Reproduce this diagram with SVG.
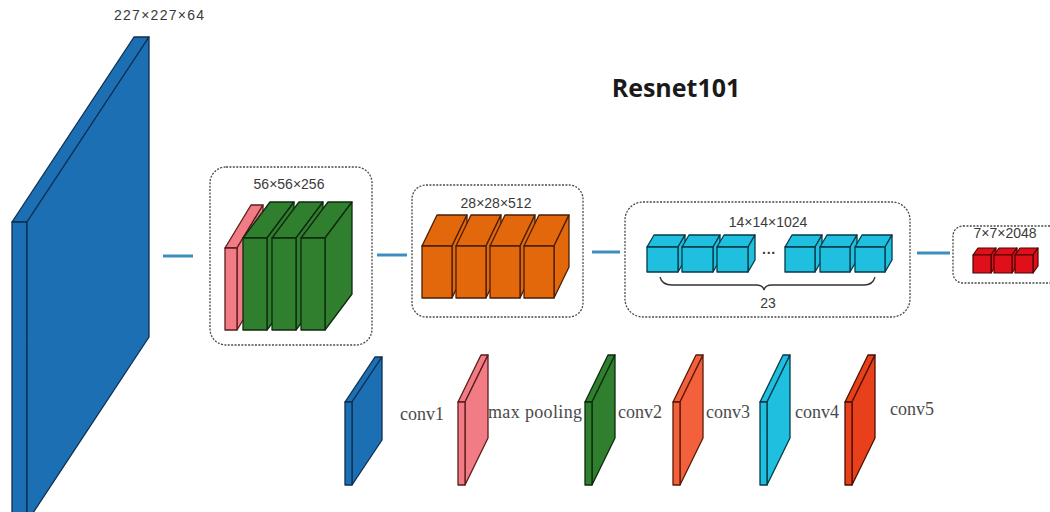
<svg xmlns="http://www.w3.org/2000/svg" width="1050" height="512" viewBox="0 0 1050 512">
  <defs>
    <style>
      .lbl { font-family: "Liberation Sans", Arial, sans-serif; font-size: 14px; fill: #3a3a3a; }
      .leg { font-family: "Liberation Serif", "Times New Roman", serif; font-size: 18px; fill: #4a4a4a; }
      .title { font-family: "Open Sans", "Liberation Sans", sans-serif; font-size: 25px; font-weight: bold; fill: #1a1a1a; }
      .box { fill: none; stroke: #4a4a4a; stroke-width: 1.3; stroke-dasharray: 2 1.4; }
      .link { stroke: #3d8ebf; stroke-width: 3; }
      .blue { fill: #1d6fb3; stroke: #0c2f52; stroke-width: 1.3; stroke-linejoin: round; }
      .pink { fill: #f27c86; stroke: #5a1c1c; stroke-width: 1.3; stroke-linejoin: round; }
      .green { fill: #2f7f2e; stroke: #0f2a0f; stroke-width: 1.3; stroke-linejoin: round; }
      .orange { fill: #e3680c; stroke: #4a1e05; stroke-width: 1.3; stroke-linejoin: round; }
      .cyan { fill: #1fbfe0; stroke: #073a48; stroke-width: 1.3; stroke-linejoin: round; }
      .red { fill: #e0101a; stroke: #4a0505; stroke-width: 1.2; stroke-linejoin: round; }
      .tomato { fill: #f2603c; stroke: #5a1a0a; stroke-width: 1.3; stroke-linejoin: round; }
      .vermil { fill: #e8401a; stroke: #4a1005; stroke-width: 1.3; stroke-linejoin: round; }
    </style>
  </defs>
  <rect width="1050" height="512" fill="#ffffff"/>

  <!-- input feature map -->
  <g id="input">
    <polygon class="blue" points="12,222 134,37 149,37 27,222"/>
    <polygon class="blue" points="12,222 27,222 27,530 12,530"/>
    <polygon class="blue" points="27,222 149,37 149,337 27,522"/>
    <text class="lbl" x="159" y="20" text-anchor="middle" font-size="13" textLength="90">227×227×64</text>
  </g>

  <text class="title" x="676" y="97" text-anchor="middle">Resnet101</text>

  <!-- connectors between stages -->
  <g id="connectors">
    <line class="link" x1="163" y1="256" x2="193" y2="256"/>
    <line class="link" x1="377" y1="255" x2="407" y2="255"/>
    <line class="link" x1="592" y1="252" x2="620" y2="252"/>
    <line class="link" x1="917" y1="253" x2="950" y2="253"/>
  </g>

  <!-- stage conv2: max pooling + 3 blocks -->
  <g id="stage-conv2">
    <rect class="box" x="210" y="167" width="162" height="178" rx="16"/>
    <text class="lbl" x="289" y="189" text-anchor="middle" font-size="15">56×56×256</text>
    <g>
      <polygon class="pink" points="225,248 251,205 263,205 237,248"/>
      <polygon class="pink" points="237,248 263,205 263,287 237,330"/>
      <rect class="pink" x="225" y="248" width="12" height="82"/>
    </g>
    <g>
      <polygon class="green" points="243,238 270,202 294,202 267,238"/>
      <polygon class="green" points="267,238 294,202 294,294 267,330"/>
      <rect class="green" x="243" y="238" width="24" height="92"/>
    </g>
    <g>
      <polygon class="green" points="272,238 299,202 323,202 296,238"/>
      <polygon class="green" points="296,238 323,202 323,294 296,330"/>
      <rect class="green" x="272" y="238" width="24" height="92"/>
    </g>
    <g>
      <polygon class="green" points="301,238 328,202 352,202 325,238"/>
      <polygon class="green" points="325,238 352,202 352,294 325,330"/>
      <rect class="green" x="301" y="238" width="24" height="92"/>
    </g>
  </g>

  <!-- stage conv3 -->
  <g id="stage-conv3">
    <rect class="box" x="412" y="185" width="171" height="132" rx="14"/>
    <text class="lbl" x="496" y="208" text-anchor="middle" font-size="14">28×28×512</text>
    <g>
      <polygon class="orange" points="422,246 437,215 467,215 452,246"/>
      <polygon class="orange" points="452,246 467,215 467,267 452,298"/>
      <rect class="orange" x="422" y="246" width="30" height="52"/>
    </g>
    <g>
      <polygon class="orange" points="456,246 471,215 501,215 486,246"/>
      <polygon class="orange" points="486,246 501,215 501,267 486,298"/>
      <rect class="orange" x="456" y="246" width="30" height="52"/>
    </g>
    <g>
      <polygon class="orange" points="490,246 505,215 535,215 520,246"/>
      <polygon class="orange" points="520,246 535,215 535,267 520,298"/>
      <rect class="orange" x="490" y="246" width="30" height="52"/>
    </g>
    <g>
      <polygon class="orange" points="524,246 539,215 569,215 554,246"/>
      <polygon class="orange" points="554,246 569,215 569,267 554,298"/>
      <rect class="orange" x="524" y="246" width="30" height="52"/>
    </g>
  </g>

  <!-- stage conv4: 23 blocks -->
  <g id="stage-conv4">
    <rect class="box" x="625" y="202" width="285" height="115" rx="18"/>
    <text class="lbl" x="768" y="227" text-anchor="middle" font-size="14">14×14×1024</text>
    <g>
      <polygon class="cyan" points="647,247 654,235 685,235 678,247"/>
      <polygon class="cyan" points="678,247 685,235 685,260 678,272"/>
      <rect class="cyan" x="647" y="247" width="31" height="25"/>
    </g>
    <g>
      <polygon class="cyan" points="682,247 689,235 720,235 713,247"/>
      <polygon class="cyan" points="713,247 720,235 720,260 713,272"/>
      <rect class="cyan" x="682" y="247" width="31" height="25"/>
    </g>
    <g>
      <polygon class="cyan" points="717,247 724,235 755,235 748,247"/>
      <polygon class="cyan" points="748,247 755,235 755,260 748,272"/>
      <rect class="cyan" x="717" y="247" width="31" height="25"/>
    </g>
    <text class="lbl" x="769" y="258" text-anchor="middle" font-size="15" font-weight="bold">···</text>
    <g>
      <polygon class="cyan" points="785,247 792,235 822,235 815,247"/>
      <polygon class="cyan" points="815,247 822,235 822,260 815,272"/>
      <rect class="cyan" x="785" y="247" width="30" height="25"/>
    </g>
    <g>
      <polygon class="cyan" points="820,247 827,235 857,235 850,247"/>
      <polygon class="cyan" points="850,247 857,235 857,260 850,272"/>
      <rect class="cyan" x="820" y="247" width="30" height="25"/>
    </g>
    <g>
      <polygon class="cyan" points="855,247 862,235 892,235 885,247"/>
      <polygon class="cyan" points="885,247 892,235 892,260 885,272"/>
      <rect class="cyan" x="855" y="247" width="30" height="25"/>
    </g>
    <path d="M660,277 Q662,285 672,285 L756,285 Q763,285 764,290 Q765,285 772,285 L864,285 Q873,285 875,277" fill="none" stroke="#333" stroke-width="1.3"/>
    <text class="lbl" x="768" y="308" text-anchor="middle" font-size="15">23</text>
  </g>

  <!-- stage conv5 -->
  <g id="stage-conv5">
    <rect class="box" x="953" y="226" width="110" height="57" rx="10"/>
    <text class="lbl" x="1005" y="238" text-anchor="middle" font-size="13">7×7×2048</text>
    <g>
      <polygon class="red" points="973,255 978,248 996,248 991,255"/>
      <polygon class="red" points="991,255 996,248 996,266 991,273"/>
      <rect class="red" x="973" y="255" width="18" height="18"/>
    </g>
    <g>
      <polygon class="red" points="994,255 999,248 1017,248 1012,255"/>
      <polygon class="red" points="1012,255 1017,248 1017,266 1012,273"/>
      <rect class="red" x="994" y="255" width="18" height="18"/>
    </g>
    <g>
      <polygon class="red" points="1015,255 1020,248 1038,248 1033,255"/>
      <polygon class="red" points="1033,255 1038,248 1038,266 1033,273"/>
      <rect class="red" x="1015" y="255" width="18" height="18"/>
    </g>
  </g>

  <!-- legend -->
  <g id="legend-conv1">
    <polygon class="blue" points="345,402 375,357 382,357 352,402"/>
    <polygon class="blue" points="352,402 382,357 382,440 352,485"/>
    <rect class="blue" x="345" y="402" width="7" height="83"/>
    <text class="leg" x="400" y="420">conv1</text>
  </g>
  <g id="legend-pool">
    <polygon class="pink" points="458,402 481,355 488,355 465,402"/>
    <polygon class="pink" points="465,402 488,355 488,438 465,485"/>
    <rect class="pink" x="458" y="402" width="7" height="83"/>
    <text class="leg" x="488" y="418" textLength="94">max pooling</text>
  </g>
  <g id="legend-conv2">
    <polygon class="green" points="585,402 608,355 615,355 592,402"/>
    <polygon class="green" points="592,402 615,355 615,438 592,485"/>
    <rect class="green" x="585" y="402" width="7" height="83"/>
    <text class="leg" x="618" y="418">conv2</text>
  </g>
  <g id="legend-conv3">
    <polygon class="tomato" points="673,402 696,355 703,355 680,402"/>
    <polygon class="tomato" points="680,402 703,355 703,438 680,485"/>
    <rect class="tomato" x="673" y="402" width="7" height="83"/>
    <text class="leg" x="706" y="418">conv3</text>
  </g>
  <g id="legend-conv4">
    <polygon class="cyan" points="760,402 783,355 790,355 767,402"/>
    <polygon class="cyan" points="767,402 790,355 790,438 767,485"/>
    <rect class="cyan" x="760" y="402" width="7" height="83"/>
    <text class="leg" x="795" y="418">conv4</text>
  </g>
  <g id="legend-conv5">
    <polygon class="vermil" points="845,402 868,355 875,355 852,402"/>
    <polygon class="vermil" points="852,402 875,355 875,438 852,485"/>
    <rect class="vermil" x="845" y="402" width="7" height="83"/>
    <text class="leg" x="890" y="415">conv5</text>
  </g>
</svg>
